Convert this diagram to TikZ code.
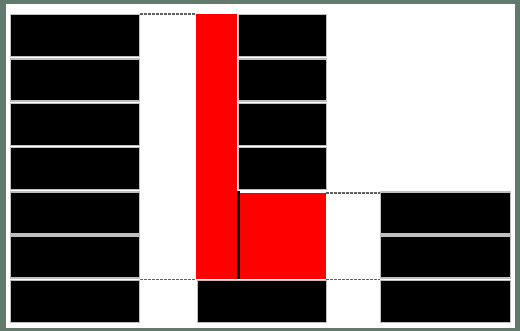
\documentclass[tikz,border=0pt]{standalone}
\definecolor{framecol}{HTML}{627A6B}
\begin{document}
\begin{tikzpicture}[x=1pt,y=-1pt,
 blk/.style={fill=black, draw=gray!50, line width=1.4pt, inner sep=0pt, anchor=north west, minimum height=42pt},
 redbox/.style={fill=red, draw=none, inner sep=0pt, anchor=north west},
 dsh/.style={draw=gray!75!black, dash pattern=on 2.5pt off 1.5pt, line width=1.6pt}]
\useasboundingbox (0,0) rectangle (520,331);
\fill[framecol] (0,0) rectangle (520,331);
\fill[white] (6,4) rectangle (515,328);
% left column
\foreach \i in {0,...,6}
  \node[blk, minimum width=129pt] (L\i) at (10, 14+44.3*\i) {};
% middle column black blocks
\foreach \i in {0,...,3}
  \node[blk, minimum width=88pt] (M\i) at (238, 14+44.3*\i) {};
% red column and red block
\node[redbox, minimum width=41pt, minimum height=265pt] (RC) at (196,14) {};
\node[redbox, minimum width=87pt, minimum height=86pt] (RB) at (239,193) {};
\draw[line width=2.5pt, black] ([xshift=-0.5pt,yshift=2pt]RB.north west) -- ([xshift=-0.5pt]RB.south west);
% bottom middle block
\node[blk, minimum width=129pt] (M6) at (197, 14+44.3*6) {};
% right column
\foreach \i in {4,5,6}
  \node[blk, minimum width=130pt] (R\i) at (380, 14+44.3*\i) {};
% dashed lines
\draw[dsh] (L0.north east) -- (RC.north west);
\draw[dsh] (L5.east |- RC.south west) -- (RC.south west);
\draw[dsh] (RB.north east) -- (R4.west |- RB.north east);
\draw[dsh] (RB.south east) -- (R5.west |- RB.south east);
\end{tikzpicture}
\end{document}
